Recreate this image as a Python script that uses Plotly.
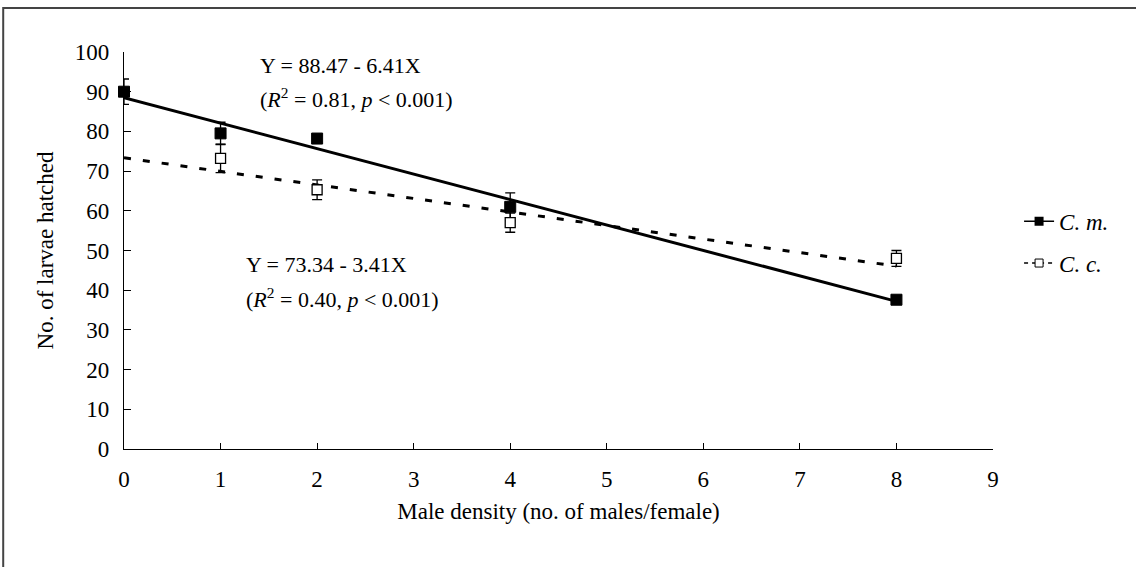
import plotly.graph_objects as go

# Larval hatching vs. male density for the two species
density_cm = [0, 1, 2, 4, 8]
hatched_cm = [90.0, 79.5, 78.2, 61.0, 37.6]
err_cm = [3.2, 2.8, 1.0, 3.5, 1.0]

density_cc = [1, 2, 4, 8]
hatched_cc = [73.2, 65.3, 57.0, 48.0]
err_cc = [3.6, 2.5, 2.4, 2.0]

# Fitted regression coefficients (intercept, slope)
fit_cm = (88.47, -6.41)
fit_cc = (73.34, -3.41)
fit_x = [0, 8]

FONT = "Liberation Serif, Times New Roman, serif"
FS = 23

fig = go.Figure()

# regression lines
fig.add_trace(go.Scatter(
    x=fit_x, y=[fit_cm[0] + fit_cm[1] * v for v in fit_x],
    mode="lines", line=dict(color="black", width=3),
    showlegend=False, hoverinfo="skip", cliponaxis=False))
fig.add_trace(go.Scatter(
    x=fit_x, y=[fit_cc[0] + fit_cc[1] * v for v in fit_x],
    mode="lines", line=dict(color="black", width=3, dash="7px,12px"),
    showlegend=False, hoverinfo="skip", cliponaxis=False))

# observed means with error bars
fig.add_trace(go.Scatter(
    x=density_cm, y=hatched_cm, mode="markers",
    marker=dict(symbol="square", size=11, color="black",
                line=dict(color="black", width=1)),
    error_y=dict(type="data", array=err_cm, color="black",
                 thickness=1.3, width=5),
    showlegend=False, cliponaxis=False))
fig.add_trace(go.Scatter(
    x=density_cc, y=hatched_cc, mode="markers",
    marker=dict(symbol="square", size=10, color="white",
                line=dict(color="black", width=1.3)),
    error_y=dict(type="data", array=err_cc, color="black",
                 thickness=1.3, width=5),
    showlegend=False, cliponaxis=False))

# legend entries
fig.add_trace(go.Scatter(
    x=[None], y=[None], mode="lines+markers", name="<i>C. m.</i>",
    legendgroup="cm",
    line=dict(color="black", width=1.5),
    marker=dict(symbol="square", size=9, color="black")))
fig.add_trace(go.Scatter(
    x=[None], y=[None], mode="lines+markers", name="<i>C. c.</i>",
    legendgroup="cc",
    line=dict(color="black", width=1.5, dash="4px,4px"),
    marker=dict(symbol="square", size=8, color="white",
                line=dict(color="black", width=1))))

ann_font = dict(family=FONT, size=22, color="black")
annotations = [
    dict(x=1.39, y=96.5, text="Y = 88.47 - 6.41X"),
    dict(x=1.39, y=88.4, text="(<i>R</i><sup>2</sup> = 0.81, <i>p</i> < 0.001)"),
    dict(x=1.24, y=46.4, text="Y = 73.34 - 3.41X"),
    dict(x=1.24, y=38.1, text="(<i>R</i><sup>2</sup> = 0.40, <i>p</i> < 0.001)"),
]
for a in annotations:
    a.update(xref="x", yref="y", xanchor="left", yanchor="middle",
             showarrow=False, font=ann_font)

fig.update_layout(
    width=1136, height=567,
    margin=dict(l=124, r=143, t=52, b=118),
    paper_bgcolor="white", plot_bgcolor="white",
    font=dict(family=FONT, size=FS, color="black"),
    annotations=annotations,
    showlegend=True,
    legend=dict(x=1.03, y=0.628, xanchor="left", yanchor="top",
                font=dict(family=FONT, size=FS, color="black"),
                bgcolor="rgba(0,0,0,0)", tracegroupgap=9,
                traceorder="grouped", itemwidth=30),
    shapes=[dict(type="rect", xref="paper", yref="paper",
                 x0=-0.139, x1=1.2, y0=-0.35, y1=1.111,
                 line=dict(color="#444444", width=2), layer="below")],
)

fig.update_xaxes(
    range=[0, 9], dtick=1, tick0=0, showgrid=False, zeroline=False,
    showline=True, linecolor="black", linewidth=1.3,
    ticks="inside", ticklen=6, tickcolor="black", tickwidth=1.3,
    ticklabelstandoff=9, tickfont=dict(family=FONT, size=FS),
    title=dict(text="Male density (no. of males/female)",
               font=dict(family=FONT, size=FS), standoff=12),
)
fig.update_yaxes(
    range=[0, 100], dtick=10, tick0=0, showgrid=False, zeroline=False,
    showline=True, linecolor="black", linewidth=1.3,
    ticks="inside", ticklen=7, tickcolor="black", tickwidth=1.3,
    ticklabelstandoff=9, tickfont=dict(family=FONT, size=FS),
    title=dict(text="No. of larvae hatched",
               font=dict(family=FONT, size=FS), standoff=14),
)

fig.write_html("out.html")
